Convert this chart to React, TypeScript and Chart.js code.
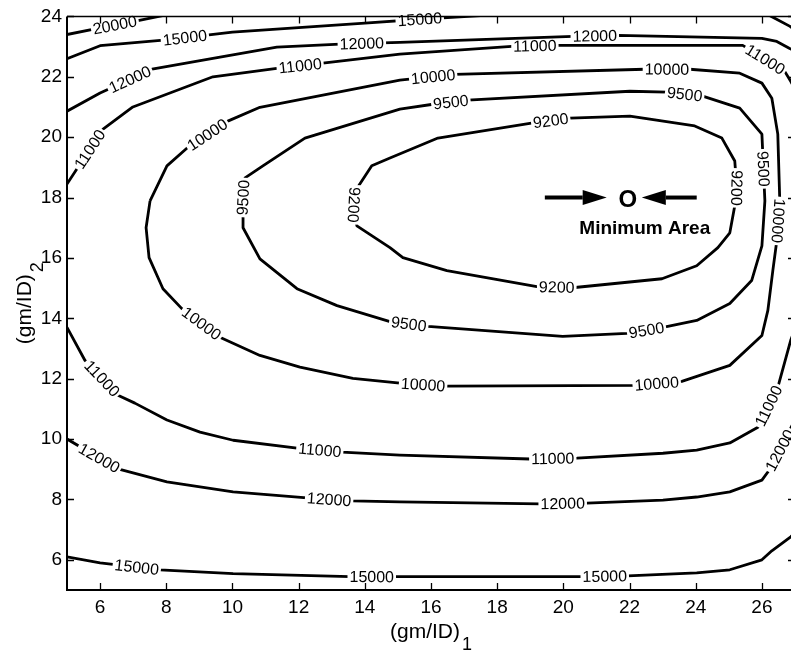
import React, { useEffect, useRef } from "react";
import { Chart, registerables } from "chart.js";

Chart.register(...registerables);

const FONT = "'Liberation Sans', Arial, Helvetica, sans-serif";

// Axis ranges and tick labels
const xRange = [5, 27];
const yRange = [5, 24];
const xTickValues = [6, 8, 10, 12, 14, 16, 18, 20, 22, 24, 26];
const yTickValues = [6, 8, 10, 12, 14, 16, 18, 20, 22, 24];

// Contour level 9200 (closed)
const c9200X = [13.67, 13.79, 14.21, 14.76, 16.21, 19.08, 20.2, 22.01, 23.97, 24.79, 25.18, 25.24, 25.18, 25.03, 24.67, 24.03, 22.98, 20.35, 19.2, 16.48, 15.15, 14.76, 13.76, 13.67];
const c9200Y = [17.76, 18.35, 19.05, 19.31, 19.97, 20.47, 20.63, 20.7, 20.37, 19.97, 19.21, 18.32, 17.73, 16.83, 16.34, 15.74, 15.31, 15.02, 15.05, 15.58, 16.01, 16.34, 17.06, 17.76];
const c9200Labels = [[13.67, 17.76], [19.62, 20.53], [25.24, 18.32], [19.8, 15.05]];

// Contour level 9500 (closed)
const c9500X = [10.32, 10.38, 10.92, 12.19, 15.06, 16.06, 17.11, 22.01, 23.13, 24.21, 25.33, 26.0, 26.09, 26.0, 25.69, 25.03, 24.03, 23.01, 21.92, 19.98, 15.91, 14.76, 13.16, 11.95, 10.83, 10.32, 10.32];
const c9500Y = [18.02, 18.65, 19.05, 19.97, 20.93, 21.09, 21.23, 21.52, 21.49, 21.36, 20.96, 20.1, 17.89, 16.4, 15.25, 14.49, 13.93, 13.7, 13.5, 13.4, 13.73, 13.89, 14.42, 14.98, 15.97, 17.0, 18.02];
const c9500Labels = [[10.32, 18.0], [16.6, 21.16], [23.67, 21.46], [26.05, 18.95], [22.52, 13.56], [15.33, 13.83]];

// Contour level 10000 (closed)
const c10000X = [7.51, 8.02, 8.63, 9.86, 10.83, 15.06, 16.72, 22.46, 23.82, 25.33, 26.0, 26.3, 26.48, 26.54, 26.45, 26.33, 26.18, 26.0, 25.03, 23.58, 22.22, 16.48, 15.06, 13.64, 12.04, 10.83, 9.62, 8.47, 7.9, 7.48, 7.39, 7.51];
const c10000Y = [17.89, 19.05, 19.64, 20.53, 20.99, 21.89, 22.08, 22.25, 22.25, 22.12, 21.79, 21.29, 20.1, 17.89, 16.57, 15.58, 14.26, 13.43, 12.44, 11.91, 11.78, 11.75, 11.85, 12.01, 12.38, 12.77, 13.37, 14.32, 14.98, 16.01, 17.0, 17.89];
const c10000Labels = [[9.23, 20.1], [16.06, 22.05], [23.13, 22.25], [26.45, 17.23], [22.82, 11.85], [15.76, 11.78], [9.05, 13.8]];

// Contour level 11000 (open, passes beyond right edge)
const c11000X = [5, 6.09, 6.99, 9.41, 11.34, 12.73, 15.06, 18.44, 19.8, 25.42, 26.69, 26.87, 27.3, 27.4, 27.3, 26.87, 26.48, 25.88, 25.03, 24.03, 23.01, 20.41, 18.99, 15.06, 13.31, 11.95, 10.02, 9.02, 8.02, 7.05, 6.54, 5.54, 5];
const c11000Y = [18.45, 20.27, 21.0, 22.0, 22.28, 22.45, 22.75, 23.01, 23.04, 23.04, 22.18, 21.85, 21.0, 17.0, 14.5, 13.27, 11.71, 10.39, 9.87, 9.63, 9.53, 9.37, 9.34, 9.47, 9.57, 9.7, 9.96, 10.23, 10.63, 11.19, 11.45, 12.61, 13.7];
const c11000Labels = [[5.63, 19.64], [12.04, 22.41], [19.14, 23.02], [26.12, 22.61], [26.3, 11.05], [19.68, 9.34], [12.64, 9.63], [6.06, 12.01]];

// Contour level 12000 (open)
const c12000X = [5, 6, 7.57, 9.41, 11.34, 13.25, 15.06, 20.29, 21.65, 26.0, 26.45, 26.84, 27.15, 27.5, 27.6, 27.4, 26.87, 26.54, 26.18, 26.0, 25.03, 24.03, 23.01, 20.71, 19.29, 15.06, 13.61, 12.25, 10.02, 8.02, 6.54, 5];
const c12000Y = [20.86, 21.46, 22.25, 22.61, 22.98, 23.08, 23.14, 23.34, 23.37, 23.27, 23.17, 22.94, 22.78, 20.0, 15.0, 11.5, 10.36, 9.63, 8.91, 8.64, 8.25, 8.08, 7.98, 7.88, 7.85, 7.92, 7.95, 8.05, 8.25, 8.58, 9.01, 10.0];
const c12000Labels = [[6.9, 21.92], [13.91, 23.11], [20.95, 23.34], [26.54, 9.63], [19.98, 7.85], [12.92, 7.98], [5.94, 9.3]];

// Contour level 15000 (open, leaves through top and right)
const c15000X = [5, 6, 8, 10, 12, 14, 16, 17.5, 22, 26.2, 26.85, 27.3, 27.8, 27.3, 26.87, 26.3, 26.0, 25.03, 24.03, 21.95, 20.59, 15.06, 13.55, 10.02, 7.81, 6.0, 5];
const c15000Y = [22.6, 23.03, 23.22, 23.48, 23.63, 23.78, 23.93, 24.03, 24.4, 24.05, 23.67, 23.3, 15.0, 7.2, 6.76, 6.3, 6.0, 5.67, 5.57, 5.47, 5.44, 5.44, 5.44, 5.54, 5.67, 5.9, 6.1];
const c15000Labels = [[8.56, 23.31], [15.66, 23.9], [7.11, 5.77], [14.21, 5.44], [21.25, 5.47]];

// Contour level 20000 (open)
const c20000X = [5, 6, 7, 8];
const c20000Y = [23.4, 23.62, 23.83, 24.05];
const c20000Labels = [[6.45, 23.69]];

// Vertical labels whose reading direction is reversed: [level, label index]
const flippedLabels = [[9200, 0], [9200, 2], [10000, 3]];

// Minimum-area annotation (data coordinates)
const minPoint = [21.95, 18.0];
const leftArrowX = [19.44, 21.31]; // tail, tip
const rightArrowX = [24.03, 22.37]; // tail, tip
const minLabelPos = [22.46, 16.78];
const minLabelText = "Minimum Area";

const xTitle = "(gm/ID)";
const xTitleSub = "1";
const yTitle = "(gm/ID)";
const yTitleSub = "2";

const contours = [
  { level: 9200, xs: c9200X, ys: c9200Y, labels: c9200Labels },
  { level: 9500, xs: c9500X, ys: c9500Y, labels: c9500Labels },
  { level: 10000, xs: c10000X, ys: c10000Y, labels: c10000Labels },
  { level: 11000, xs: c11000X, ys: c11000Y, labels: c11000Labels },
  { level: 12000, xs: c12000X, ys: c12000Y, labels: c12000Labels },
  { level: 15000, xs: c15000X, ys: c15000Y, labels: c15000Labels },
  { level: 20000, xs: c20000X, ys: c20000Y, labels: c20000Labels },
];

type P = [number, number];

function labelPose(pts: P[], px: number, py: number, half: number) {
  const n = pts.length;
  const cum = [0];
  for (let i = 1; i < n; i++) {
    cum[i] = cum[i - 1] + Math.hypot(pts[i][0] - pts[i - 1][0], pts[i][1] - pts[i - 1][1]);
  }
  const total = cum[n - 1];
  const closed = Math.hypot(pts[0][0] - pts[n - 1][0], pts[0][1] - pts[n - 1][1]) < 1;
  let bestD = Infinity, bestS = 0, bx = px, by = py;
  for (let i = 0; i < n - 1; i++) {
    const [x1, y1] = pts[i];
    const [x2, y2] = pts[i + 1];
    const dx = x2 - x1, dy = y2 - y1;
    const L = dx * dx + dy * dy;
    let t = L ? ((px - x1) * dx + (py - y1) * dy) / L : 0;
    t = Math.max(0, Math.min(1, t));
    const qx = x1 + t * dx, qy = y1 + t * dy;
    const d = (qx - px) ** 2 + (qy - py) ** 2;
    if (d < bestD) {
      bestD = d;
      bestS = cum[i] + t * Math.sqrt(L);
      bx = qx;
      by = qy;
    }
  }
  const at = (s: number): P => {
    if (closed) s = ((s % total) + total) % total;
    else s = Math.max(0, Math.min(total, s));
    for (let i = 0; i < n - 1; i++) {
      if (s <= cum[i + 1] || i === n - 2) {
        const seg = cum[i + 1] - cum[i] || 1;
        const t = (s - cum[i]) / seg;
        return [pts[i][0] + t * (pts[i + 1][0] - pts[i][0]), pts[i][1] + t * (pts[i + 1][1] - pts[i][1])];
      }
    }
    return pts[n - 1];
  };
  const p1 = at(bestS - half);
  const p2 = at(bestS + half);
  let a = Math.atan2(p2[1] - p1[1], p2[0] - p1[0]);
  if (a > Math.PI / 2) a -= Math.PI;
  if (a <= -Math.PI / 2) a += Math.PI;
  return { x: bx, y: by, a };
}

const contourLabelPlugin = {
  id: "contourLabels",
  afterDatasetsDraw(chart: any) {
    const ctx = chart.ctx as CanvasRenderingContext2D;
    const sx = chart.scales.x, sy = chart.scales.y;
    ctx.save();
    ctx.font = `16px ${FONT}`;
    ctx.textAlign = "center";
    ctx.textBaseline = "middle";
    contours.forEach((c) => {
      const pts: P[] = c.xs.map((x, i) => [sx.getPixelForValue(x), sy.getPixelForValue(c.ys[i])]);
      const text = String(c.level);
      const w = ctx.measureText(text).width;
      c.labels.forEach(([lx, ly], idx) => {
        const pose = labelPose(pts, sx.getPixelForValue(lx), sy.getPixelForValue(ly), w / 2 + 2);
        const flip = flippedLabels.some(([lv, li]) => lv === c.level && li === idx);
        ctx.save();
        ctx.translate(pose.x, pose.y);
        ctx.rotate(pose.a + (flip ? Math.PI : 0));
        ctx.fillStyle = "#ffffff";
        ctx.fillRect(-w / 2 - 2, -6, w + 4, 12);
        ctx.fillStyle = "#000000";
        ctx.fillText(text, 0, 1);
        ctx.restore();
      });
    });

    // Minimum-area annotation
    const cy = sy.getPixelForValue(minPoint[1]);
    const drawArrow = (tailX: number, tipX: number) => {
      const t = sx.getPixelForValue(tailX);
      const p = sx.getPixelForValue(tipX);
      const dir = Math.sign(p - t);
      const head = 24;
      const base = p - dir * head;
      ctx.strokeStyle = "#000";
      ctx.lineWidth = 4;
      ctx.beginPath();
      ctx.moveTo(t, cy);
      ctx.lineTo(base, cy);
      ctx.stroke();
      ctx.fillStyle = "#000";
      ctx.beginPath();
      ctx.moveTo(p, cy);
      ctx.lineTo(base, cy - 7.5);
      ctx.lineTo(base, cy + 7.5);
      ctx.closePath();
      ctx.fill();
    };
    drawArrow(leftArrowX[0], leftArrowX[1]);
    drawArrow(rightArrowX[0], rightArrowX[1]);
    ctx.fillStyle = "#000";
    ctx.font = `bold 24px ${FONT}`;
    ctx.textAlign = "center";
    ctx.textBaseline = "alphabetic";
    ctx.fillText("O", sx.getPixelForValue(minPoint[0]), cy + 9);
    ctx.font = `bold 19px ${FONT}`;
    ctx.fillText(minLabelText, sx.getPixelForValue(minLabelPos[0]), sy.getPixelForValue(minLabelPos[1]));
    ctx.restore();
  },
};

const framePlugin = {
  id: "frameAndTitles",
  afterDraw(chart: any) {
    const ctx = chart.ctx as CanvasRenderingContext2D;
    const { left, right, top, bottom } = chart.chartArea;
    const sx = chart.scales.x, sy = chart.scales.y;
    ctx.save();
    ctx.strokeStyle = "#000";
    ctx.lineWidth = 2;
    ctx.beginPath();
    ctx.moveTo(left, top);
    ctx.lineTo(left, bottom);
    ctx.lineTo(right, bottom);
    ctx.stroke();
    ctx.lineWidth = 1.5;
    ctx.beginPath();
    ctx.moveTo(left, top);
    ctx.lineTo(right, top);
    ctx.lineTo(right, bottom);
    ctx.stroke();
    const tl = 7;
    ctx.lineWidth = 1.3;
    ctx.beginPath();
    xTickValues.forEach((v) => {
      const x = Math.round(sx.getPixelForValue(v)) + 0.5;
      ctx.moveTo(x, bottom);
      ctx.lineTo(x, bottom - tl);
      ctx.moveTo(x, top);
      ctx.lineTo(x, top + tl);
    });
    yTickValues.forEach((v) => {
      const y = Math.round(sy.getPixelForValue(v)) + 0.5;
      ctx.moveTo(left, y);
      ctx.lineTo(left + tl, y);
      ctx.moveTo(right, y);
      ctx.lineTo(right - tl, y);
    });
    ctx.stroke();

    // Axis titles with subscripts
    ctx.fillStyle = "#000";
    ctx.textBaseline = "alphabetic";
    ctx.textAlign = "left";
    const mainFont = `21px ${FONT}`;
    const subFont = `18px ${FONT}`;
    ctx.font = mainFont;
    const wMain = ctx.measureText(xTitle).width;
    ctx.font = subFont;
    const wSub = ctx.measureText(xTitleSub).width;
    const total = wMain + 2 + wSub;
    const cx = (left + right) / 2;
    const xb = bottom + 47.5;
    ctx.font = mainFont;
    ctx.fillText(xTitle, cx - total / 2, xb);
    ctx.font = subFont;
    ctx.fillText(xTitleSub, cx - total / 2 + wMain + 2, xb + 12.5);

    ctx.font = mainFont;
    const wMainY = ctx.measureText(yTitle).width;
    ctx.font = subFont;
    const wSubY = ctx.measureText(yTitleSub).width;
    const totalY = wMainY + 2 + wSubY;
    ctx.save();
    ctx.translate(31, (top + bottom) / 2);
    ctx.rotate(-Math.PI / 2);
    ctx.font = mainFont;
    ctx.fillText(yTitle, -totalY / 2, 0);
    ctx.font = subFont;
    ctx.fillText(yTitleSub, -totalY / 2 + wMainY + 2, 12);
    ctx.restore();
    ctx.restore();
  },
};

export default function App() {
  const ref = useRef<HTMLCanvasElement | null>(null);

  useEffect(() => {
    if (!ref.current) return;
    const datasets = contours.map((c) => ({
      label: String(c.level),
      data: c.xs.map((x, i) => ({ x, y: c.ys[i] })),
      borderColor: "#000000",
      borderWidth: 2.8,
      pointRadius: 0,
      fill: false,
      tension: 0,
      borderJoinStyle: "round" as const,
      clip: 0,
    }));
    const chart = new Chart(ref.current, {
      type: "line",
      data: { datasets },
      options: {
        responsive: false,
        animation: false,
        devicePixelRatio: 1,
        layout: { padding: { top: 15, right: 5, left: 0, bottom: 0 } },
        plugins: { legend: { display: false }, tooltip: { enabled: false } },
        scales: {
          x: {
            type: "linear",
            min: xRange[0],
            max: xRange[1],
            grid: { display: false, drawTicks: false },
            border: { display: false },
            ticks: { font: { size: 19, family: FONT }, color: "#000", padding: 6, autoSkip: false, maxRotation: 0 },
            afterBuildTicks: (s: any) => {
              s.ticks = xTickValues.map((v) => ({ value: v }));
            },
            afterFit: (s: any) => {
              s.height = 63;
            },
          },
          y: {
            type: "linear",
            min: yRange[0],
            max: yRange[1],
            grid: { display: false, drawTicks: false },
            border: { display: false },
            ticks: { font: { size: 19, family: FONT }, color: "#000", padding: 5, autoSkip: false },
            afterBuildTicks: (s: any) => {
              s.ticks = yTickValues.map((v) => ({ value: v }));
            },
            afterFit: (s: any) => {
              s.width = 67;
            },
          },
        },
      },
      plugins: [contourLabelPlugin, framePlugin],
    });
    return () => chart.destroy();
  }, []);

  return (
    <div style={{ position: "fixed", left: 0, top: 0, width: 791, height: 653, overflow: "hidden", background: "#fff" }}>
      <canvas ref={ref} width={800} height={653} style={{ display: "block", width: 800, height: 653 }} />
    </div>
  );
}
